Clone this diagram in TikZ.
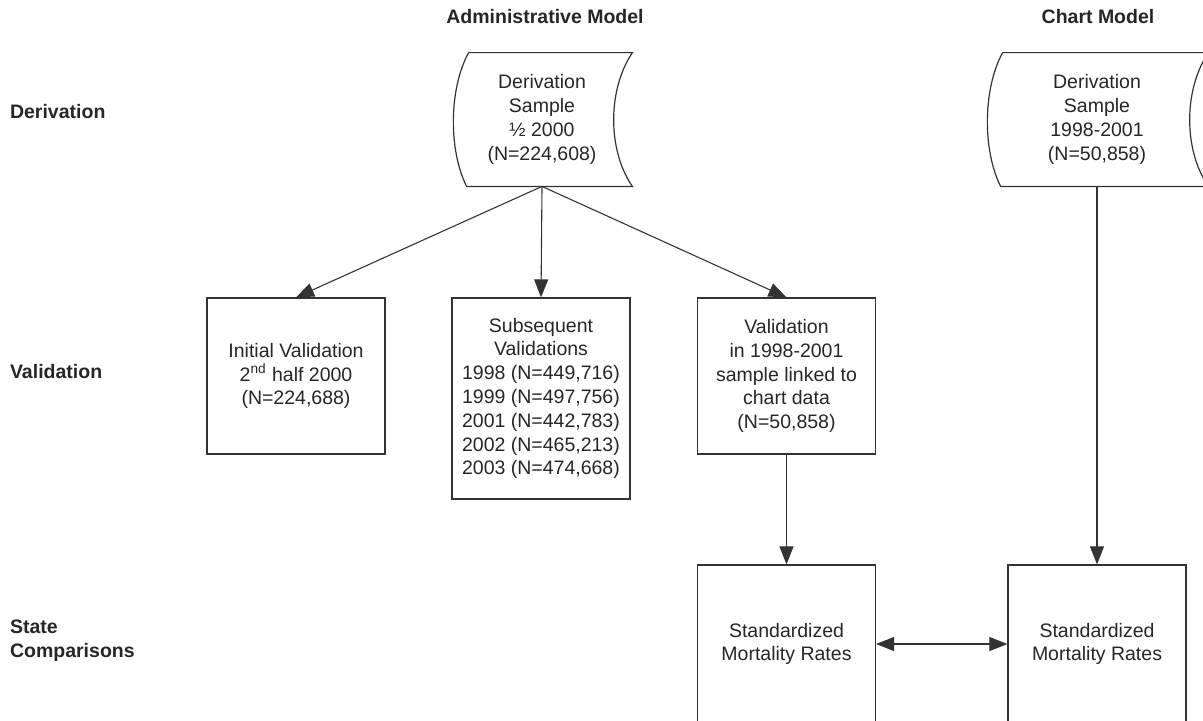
\documentclass[tikz,border=0pt]{standalone}
\usepackage{fontspec}
\setmainfont{Liberation Sans}
\usetikzlibrary{arrows.meta, calc}

\begin{document}
\begin{tikzpicture}[x=0.5pt, y=-0.5pt,
    box/.style={draw=black!80, line width=0.6pt, minimum width=89pt, align=center,
                text=black!85, font=\fontsize{9.75}{11.9}\selectfont, inner sep=0pt},
    stored/.style={minimum height=66.5pt, align=center, text=black!85,
                   font=\fontsize{9.75}{11.9}\selectfont, inner sep=0pt},
    head/.style={font=\bfseries\fontsize{9.75}{11.9}\selectfont, text=black!85, align=left},
    arrow/.style={-{Triangle[length=9pt, width=7pt]}, draw=black!80, line width=0.55pt},
    twoway/.style={{Triangle[length=9pt, width=7pt]}-{Triangle[length=9pt, width=7pt]},
                   draw=black!80, line width=0.55pt},
    link/.style={draw=black!80, line width=0.6pt}
  ]
  \useasboundingbox (0,0) rectangle (1203,720);
  \clip (0,0) rectangle (1203,720);

  % column and row headings
  \node[head] (admhead) at (545,17) {Administrative Model};
  \node[head] (charthead) at (1098,17) {Chart Model};
  \node[head, anchor=west] (rowder) at (3,112) {Derivation};
  \node[head, anchor=west] (rowval) at (3,372) {Validation};
  \node[head, anchor=west] (rowcomp) at (3,641) {State\\Comparisons};

  % derivation samples
  \node[stored, minimum width=73pt] (admder) at (542,119.5)
    {Derivation\\Sample\\½ 2000\\(N=224,608)};
  \node[stored, minimum width=94pt] (chartder) at (1097,119.5)
    {Derivation\\Sample\\1998-2001\\(N=50,858)};
  \foreach \n in {admder, chartder}
    \draw[link] (\n.north west) -- ($(\n.north east)+(17,0)$)
      .. controls ($(\n.north east)+(-8,37)$) and ($(\n.south east)+(-8,-36)$) .. ($(\n.south east)+(17,0)$)
      -- ($(\n.south west)+(-2,0)$)
      .. controls ($(\n.south west)+(-20,-36)$) and ($(\n.north west)+(-20,37)$) .. (\n.north west);

  % validation boxes
  \node[box, minimum height=78pt] (initval) at (296,376)
    {Initial Validation\\2\textsuperscript{nd} half 2000\\(N=224,688)};
  \node[box, minimum height=100.5pt] (subval) at (541,398.5)
    {Subsequent\\Validations\\1998 (N=449,716)\\1999 (N=497,756)\\2001 (N=442,783)\\2002 (N=465,213)\\2003 (N=474,668)};
  \node[box, minimum height=78pt] (linkval) at (786.5,376)
    {Validation\\in 1998-2001\\sample linked to\\chart data\\(N=50,858)};

  % comparisons
  \node[box, minimum height=79pt] (admsmr) at (786.5,644)
    {Standardized\\Mortality Rates};
  \node[box, minimum height=79pt] (chartsmr) at (1097,644)
    {Standardized\\Mortality Rates};

  \draw[arrow] (admder.south) -- (initval.north);
  \draw[arrow] (admder.south) -- (subval.north);
  \draw[arrow] (admder.south) -- (linkval.north);
  \draw[arrow] (linkval.south) -- (admsmr.north);
  \draw[arrow] (chartder.south) -- (chartsmr.north);
  \draw[twoway] (admsmr.east) -- (chartsmr.west);
\end{tikzpicture}
\end{document}
